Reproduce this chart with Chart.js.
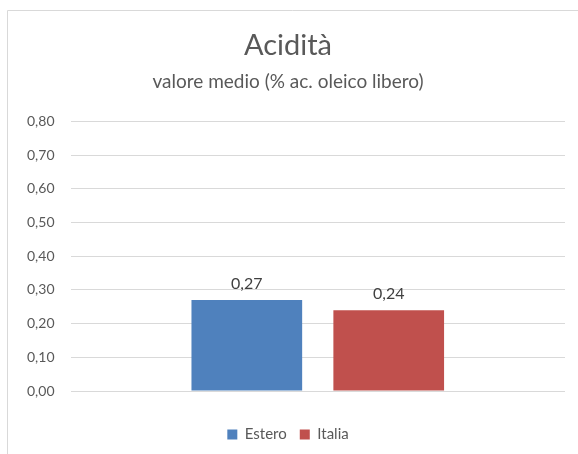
<!DOCTYPE html>
<html><head><meta charset="utf-8">
<script src="https://cdn.jsdelivr.net/npm/chart.js@4/dist/chart.umd.min.js"></script>
<style>html,body{margin:0;padding:0;background:#fff;}#wrap{width:578px;height:454px;position:relative;}</style>
</head><body><div id="wrap"><canvas id="c" width="578" height="454"></canvas></div>
<script>
const categories = [""];
const seriesNames = ["Estero", "Italia"];
const esteroValues = [0.27];
const italiaValues = [0.24];
const seriesColors = ["#4F81BD", "#C0504D"];
const titleText = "Acidità";
const subtitleText = "valore medio (% ac. oleico libero)";
const yMin = 0, yMax = 0.8, yStep = 0.1;

const fmt = v => v.toFixed(2).replace('.', ',');
const FONT = "Lato, 'Open Sans', sans-serif";

const frame = {
  id: 'frame',
  beforeDraw(chart) {
    const ctx = chart.ctx;
    ctx.save();
    ctx.strokeStyle = '#d9d9d9';
    ctx.lineWidth = 1;
    ctx.beginPath();
    ctx.moveTo(7.5, 454);
    ctx.lineTo(7.5, 10.5);
    ctx.lineTo(578, 10.5);
    ctx.stroke();
    ctx.restore();
  }
};
const labels = {
  id: 'labels',
  afterDatasetsDraw(chart) {
    const ctx = chart.ctx;
    ctx.save();
    ctx.font = "16px " + FONT;
    ctx.fillStyle = '#404040';
    ctx.textAlign = 'center';
    ctx.textBaseline = 'bottom';
    chart.data.datasets.forEach((ds, i) => {
      chart.getDatasetMeta(i).data.forEach((el, j) => {
        ctx.fillText(fmt(ds.data[j]), el.x, el.y - 8);
      });
    });
    ctx.restore();
  }
};

new Chart(document.getElementById('c'), {
  type: 'bar',
  data: {
    labels: categories,
    datasets: [
      { label: seriesNames[0], data: esteroValues, backgroundColor: seriesColors[0] },
      { label: seriesNames[1], data: italiaValues, backgroundColor: seriesColors[1] }
    ]
  },
  options: {
    responsive: false,
    animation: false,
    devicePixelRatio: 1,
    categoryPercentage: 0.574,
    barPercentage: 0.78,
    layout: { padding: { left: 11, right: 13, top: 14, bottom: 2 } },
    plugins: {
      title: { display: true, text: titleText, color: '#595959', font: { family: FONT, size: 29, weight: 'normal' }, padding: { top: 14, bottom: 4 } },
      subtitle: { display: true, text: subtitleText, color: '#595959', font: { family: FONT, size: 19, weight: 'normal' }, padding: { top: 4, bottom: 28 } },
      legend: {
        position: 'bottom',
        labels: { boxWidth: 10, boxHeight: 10, color: '#595959', font: { family: FONT, size: 15 }, padding: 13 }
      },
      tooltip: { enabled: false }
    },
    scales: {
      x: { grid: { display: false }, border: { display: false }, ticks: { display: false }, afterFit: s => { s.height = 23; } },
      y: {
        min: yMin, max: yMax,
        grid: { color: '#d9d9d9', drawTicks: false },
        border: { display: false },
        ticks: { stepSize: yStep, padding: 16, color: '#595959', font: { family: FONT, size: 14 }, callback: v => fmt(v) }
      }
    }
  },
  plugins: [frame, labels]
});
</script></body></html>
